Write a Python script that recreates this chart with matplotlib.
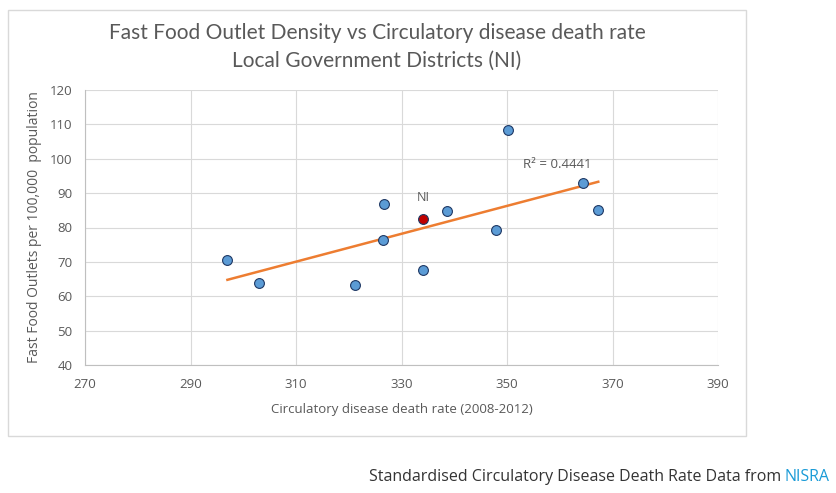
import numpy as np
import matplotlib
matplotlib.use("Agg")
import matplotlib.pyplot as plt
from matplotlib.patches import Rectangle

# district values (death rate, outlets per 100k)
death_rate = [297.0, 303.0, 321.1, 326.5, 326.7, 334.1, 338.6, 347.9, 350.2, 364.5, 367.3]
outlets = [70.6, 63.8, 63.2, 76.4, 86.9, 67.7, 84.7, 79.2, 108.3, 92.9, 85.2]
ni_rate = [334.1]
ni_outlets = [82.4]
x_ticks = [270, 290, 310, 330, 350, 370, 390]
y_ticks = [40, 50, 60, 70, 80, 90, 100, 110, 120]

grey = "#595959"
fig = plt.figure(figsize=(8.36, 4.93), dpi=100)

# light frame around the chart
fig.patches.append(Rectangle((8 / 836, 1 - 436 / 493), 738 / 836, 426 / 493,
                             transform=fig.transFigure, fill=False,
                             edgecolor="#d9d9d9", linewidth=1))

ax = fig.add_axes([85 / 836, 1 - 365 / 493, 633 / 836, 275 / 493])

# trend line over the districts
coef = np.polyfit(death_rate, outlets, 1)
xs = np.array([min(death_rate), max(death_rate)])
ax.plot(xs, np.polyval(coef, xs), color="#ed7d31", linewidth=1.8, zorder=2)

ax.scatter(death_rate, outlets, s=50, color="#5b9bd5", edgecolor="#1f3864",
           linewidth=0.8, zorder=3)
ax.scatter(ni_rate, ni_outlets, s=50, color="#c00000", edgecolor="#1f3864",
           linewidth=0.8, zorder=3)
ax.annotate("NI", (ni_rate[0], ni_outlets[0]), xytext=(0, 11), textcoords="offset points",
            ha="center", va="bottom", fontsize=9, color=grey, family="Open Sans")
ax.text(359.5, 96.3, "R² = 0.4441", ha="center", va="bottom", fontsize=9.5,
        color=grey, family="Open Sans")

ax.set_xlim(270, 390)
ax.set_ylim(40, 120)
ax.set_xticks(x_ticks)
ax.set_yticks(y_ticks)
ax.grid(True, color="#d9d9d9", linewidth=0.8)
ax.set_axisbelow(True)
for side in ["top", "right"]:
    ax.spines[side].set_visible(False)
for side in ["left", "bottom"]:
    ax.spines[side].set_color("#bfbfbf")
ax.tick_params(length=0, labelsize=9.5, labelcolor=grey, pad=9)
for lab in ax.get_xticklabels() + ax.get_yticklabels():
    lab.set_family("Open Sans")

ax.set_xlabel("Circulatory disease death rate (2008-2012)", fontsize=9.5, color=grey,
              family="Open Sans", labelpad=9)
ax.set_ylabel("Fast Food Outlets per 100,000  population", fontsize=10, color=grey,
              family="Open Sans", labelpad=6)

fig.text(377 / 836, 1 - 33 / 493, "Fast Food Outlet Density vs Circulatory disease death rate",
         ha="center", va="center", fontsize=15, color=grey, family="Lato")
fig.text(377 / 836, 1 - 61 / 493, "Local Government Districts (NI)",
         ha="center", va="center", fontsize=15, color=grey, family="Lato")

# source line under the frame
fig.text(785 / 836, 1 - 477 / 493, "Standardised Circulatory Disease Death Rate Data from ",
         ha="right", va="center", fontsize=11.5, color="#333333", family="Open Sans")
fig.text(785 / 836, 1 - 477 / 493, "NISRA", ha="left", va="center", fontsize=11.5,
         color="#1a9bd7", family="Open Sans")

fig.savefig("out.png", dpi=100)
